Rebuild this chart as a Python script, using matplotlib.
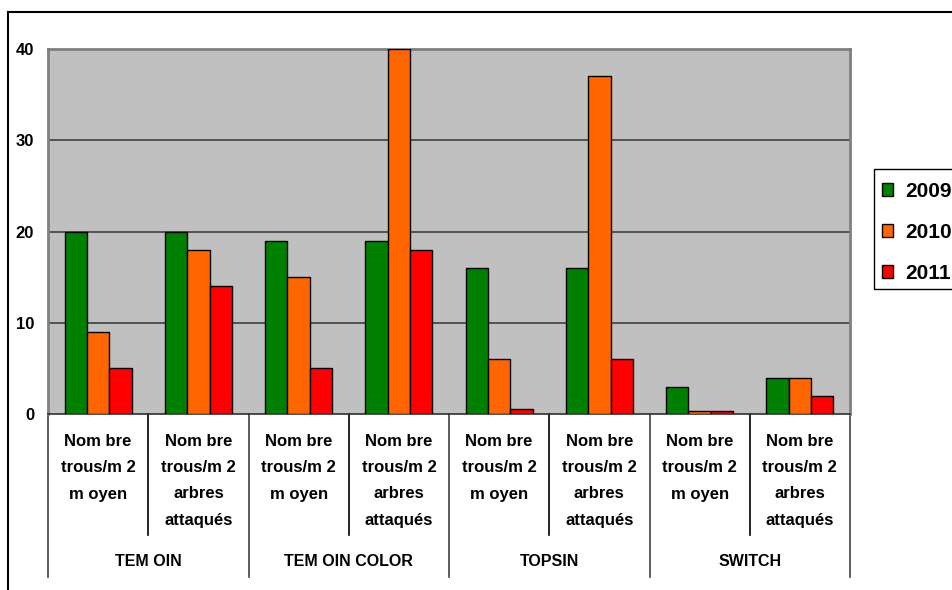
import matplotlib
matplotlib.use("Agg")
import matplotlib.pyplot as plt
import matplotlib.patches as mpatches
from matplotlib.lines import Line2D
import numpy as np

plt.rcParams['font.family'] = ['Liberation Sans', 'DejaVu Sans']
plt.rcParams['font.weight'] = 'bold'

groups = ["TEM OIN", "TEM OIN COLOR", "TOPSIN", "SWITCH"]
sub_moyen = ["Nom bre", "trous/m 2", "m oyen"]
sub_arbres = ["Nom bre", "trous/m 2", "arbres", "attaqués"]
sub_labels = [sub_moyen, sub_arbres] * 4
years = ["2009", "2010", "2011"]
v2009 = [20, 20, 19, 19, 16, 16, 3, 4]
v2010 = [9, 18, 15, 40, 6, 37, 0.3, 4]
v2011 = [5, 14, 5, 18, 0.55, 6, 0.3, 2]
colors = ["#008000", "#FF6600", "#FF0000"]
yticks = [0, 10, 20, 30, 40]

W, H = 952, 590
fig = plt.figure(figsize=(W / 100, H / 100), dpi=100)
L, R, T, B = 48, 850, 49, 414
ax = fig.add_axes([L / W, 1 - B / H, (R - L) / W, (B - T) / H])
ax.set_facecolor("#C0C0C0")

n = len(v2009)
x = np.arange(n) + 0.5
bw = 0.222
for k, vals in enumerate([v2009, v2010, v2011]):
    ax.bar(x + (k - 1) * bw, vals, width=bw, color=colors[k],
           edgecolor="black", linewidth=1, zorder=3)

ax.set_xlim(0, n)
ax.set_ylim(0, 40)
ax.set_yticks(yticks)
ax.set_yticklabels([str(t) for t in yticks], fontsize=12, fontweight='bold')
ax.tick_params(axis='y', length=0, pad=10)
ax.set_xticks([])
for g in [10, 20, 30]:
    ax.axhline(g, color="#404040", linewidth=1.2, zorder=1)
for s in ax.spines.values():
    s.set_color("#808080")
    s.set_linewidth(2)
ax.spines['bottom'].set_color("#303030")
ax.spines['bottom'].set_linewidth(1.2)

ph = B - T
def ya(p):
    return (B - p) / ph

tr = ax.get_xaxis_transform()
for i in range(n + 1):
    end = 577 if i % 2 == 0 else 535
    ax.add_line(Line2D([i, i], [0, ya(end)], transform=tr, color="black" if i % 2 else "#404040",
                       linewidth=1.2, clip_on=False))

line_y = [442, 468, 494, 520]
for i, lab in enumerate(sub_labels):
    for j, t in enumerate(lab):
        ax.text(i + 0.5, ya(line_y[j]), t, transform=tr, ha='center', va='center',
                fontsize=12, fontweight='bold')
for gi, g in enumerate(groups):
    ax.text(2 * gi + 1, ya(562), g, transform=tr, ha='center', va='center',
            fontsize=11.5, fontweight='bold')

# outer chart frame (left and top edges)
fig.add_artist(Line2D([8 / W, 8 / W], [0, 1 - 12 / H], transform=fig.transFigure,
                      color="black", linewidth=1.5))
fig.add_artist(Line2D([8 / W, 1], [1 - 12 / H, 1 - 12 / H], transform=fig.transFigure,
                      color="black", linewidth=1.5))

# legend frame (extends past right edge, as in the reference)
fig.add_artist(mpatches.Rectangle((874 / W, 1 - 289 / H), 100 / W, 120 / H,
                                  transform=fig.transFigure, fill=False,
                                  edgecolor="black", linewidth=1))
handles = [mpatches.Patch(facecolor=c, edgecolor="black", linewidth=1) for c in colors]
leg = fig.legend(handles, years, loc='upper left', bbox_to_anchor=(869 / W, 1 - 169 / H),
                 bbox_transform=fig.transFigure, frameon=False,
                 prop={'size': 15, 'weight': 'bold'}, handlelength=0.55, handleheight=0.55,
                 handletextpad=0.55, labelspacing=1.05, borderpad=0.62, borderaxespad=0)

fig.savefig("out.png", dpi=100)
